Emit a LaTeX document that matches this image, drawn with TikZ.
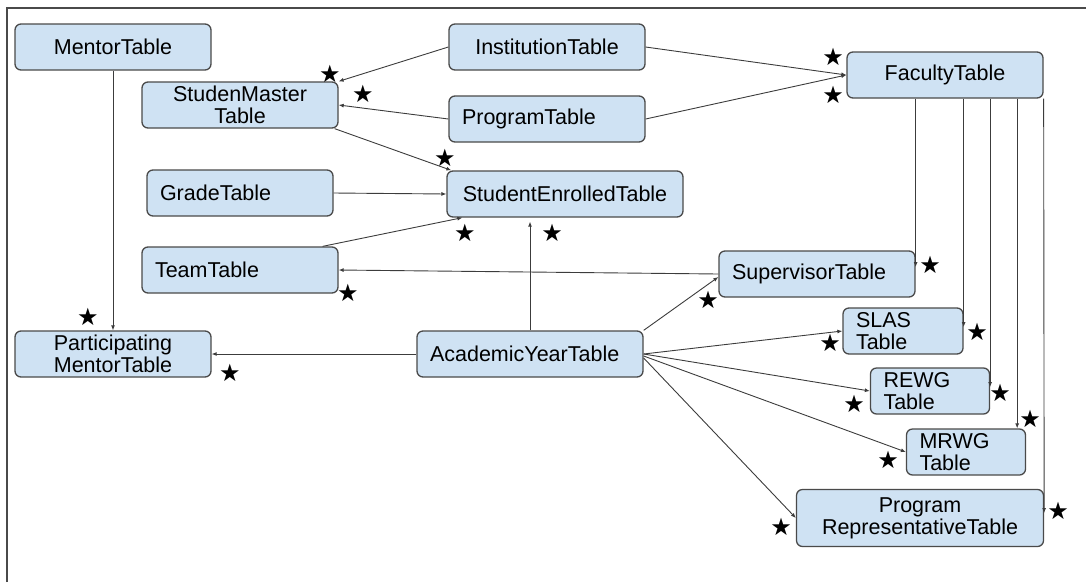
\documentclass[tikz,border=0pt]{standalone}
\usepackage{fontspec}
\setmainfont{Liberation Sans}
\newfontfamily\symfont{DejaVu Sans}
\usetikzlibrary{arrows.meta, positioning, calc}

\definecolor{boxfill}{HTML}{CFE2F3}
\definecolor{boxline}{HTML}{4A4A4A}
\definecolor{linkgray}{HTML}{3C3C3C}

\begin{document}
\begin{tikzpicture}[
  x=1pt, y=-1pt,
  tbl/.style = {draw=boxline, fill=boxfill, line width=1.3pt, rounded corners=6pt,
                minimum height=46pt, inner xsep=13pt, inner ysep=2pt,
                font=\fontsize{21.5}{22}\selectfont},
  arrow/.style = {draw=linkgray, line width=0.9pt, -{Latex[length=5pt, width=4pt]}},
  starsym/.style = {inner sep=0pt, font=\symfont\fontsize{24}{24}\selectfont}
]
  \useasboundingbox (0,0) rectangle (1086,582);

  % frame
  \draw[boxline, line width=1.3pt] (7,582) -- (7,8) -- (1086,8);

  % Mentor
  \node[tbl, text width=170pt, align=center] (mentor) at (113,47) {MentorTable};

  % Student master
  \node[tbl, text width=170pt, align=center] (studmaster) at (240,105) {StudenMaster\\Table};

  % Institution
  \node[tbl, text width=170pt, align=center] (institution) at (547,47) {InstitutionTable};

  % Program
  \node[tbl, text width=170pt, align=left] (program) at (547,119) {ProgramTable};

  % Faculty
  \node[tbl, text width=170pt, align=center] (faculty) at (945,75) {FacultyTable};

  % Grade
  \node[tbl, text width=160pt, align=left] (grade) at (240,193) {GradeTable};

  % Student enrolled
  \node[tbl, text width=210pt, align=center] (enrolled) at (565,194) {StudentEnrolledTable};

  % Team
  \node[tbl, text width=170pt, align=left] (team) at (240,270) {TeamTable};

  % Supervisor
  \node[tbl, text width=170pt, align=left] (supervisor) at (817,274) {SupervisorTable};

  % Participating mentor
  \node[tbl, text width=170pt, align=center] (partmentor) at (113,354) {Participating\\MentorTable};

  % Academic year
  \node[tbl, text width=200pt, align=left] (academic) at (530,354) {AcademicYearTable};

  % SLAS / REWG / MRWG
  \node[tbl, text width=94pt, align=left] (slas) at (903,331) {SLAS\\Table};
  \node[tbl, text width=93pt, align=left] (rewg) at (930,391) {REWG\\Table};
  \node[tbl, text width=93pt, align=left] (mrwg) at (966,452) {MRWG\\Table};

  % Program representative
  \node[tbl, text width=221pt, align=center, minimum height=57pt] (progrep) at (920,518) {Program\\RepresentativeTable};

  % stars
  \node[starsym] (st1) at (330,74) {★};
  \node[starsym] (st2) at (363,94) {★};
  \node[starsym] (st3) at (445,158) {★};
  \node[starsym] (st4) at (465,233) {★};
  \node[starsym] (st5) at (552,233) {★};
  \node[starsym] (st6) at (833,57) {★};
  \node[starsym] (st7) at (833,95) {★};
  \node[starsym] (st8) at (930,265) {★};
  \node[starsym] (st9) at (708,300) {★};
  \node[starsym] (st10) at (348,293) {★};
  \node[starsym] (st11) at (88,317) {★};
  \node[starsym] (st12) at (230,373) {★};
  \node[starsym] (st13) at (977,332) {★};
  \node[starsym] (st14) at (830,343) {★};
  \node[starsym] (st15) at (1000,393) {★};
  \node[starsym] (st16) at (854,404) {★};
  \node[starsym] (st17) at (1030,419) {★};
  \node[starsym] (st18) at (888,460) {★};
  \node[starsym] (st19) at (1058,511) {★};
  \node[starsym] (st20) at (781,527) {★};

  % mentor -> participating mentor
  \draw[arrow] (mentor.south) -- (partmentor.north);

  % institution / program -> student master
  \draw[arrow] (institution.west) -- (studmaster.north east);
  \draw[arrow] (program.west) -- (studmaster.east);

  % into student enrolled
  \draw[arrow] ([xshift=-4pt]studmaster.south east) -- ([xshift=5pt]enrolled.north west);
  \draw[arrow] (grade.east) -- (enrolled.west);
  \draw[arrow] ([xshift=-16pt]team.north east) -- ([xshift=16pt]enrolled.south west);
  \draw[arrow] (academic.north) -- ([yshift=-4pt]academic.north |- enrolled.south);

  % supervisor -> team
  \draw[arrow] (supervisor.west) -- (team.east);

  % academic year links
  \draw[arrow] (academic.north east) -- ([yshift=-3pt]supervisor.west);
  \draw[arrow] (academic.west) -- (partmentor.east);
  \draw[arrow] (academic.east) -- (slas.west);
  \draw[arrow] (academic.east) -- (rewg.west);
  \draw[arrow] ([yshift=-2pt]academic.east) -- (mrwg.west);
  \draw[arrow] ([yshift=-4pt]academic.east) -- (progrep.west);

  % into faculty
  \draw[arrow] (institution.east) -- (faculty.west);
  \draw[arrow] (program.east) -- (faculty.west);

  % faculty -> down the right side
  \coordinate (mrwg_in) at ([xshift=-9pt]mrwg.north east);
  \draw[arrow] (faculty.south -| supervisor.east) -- ([yshift=7pt]supervisor.east);
  \draw[arrow] (faculty.south -| slas.east) -- ([yshift=4pt]slas.east);
  \draw[arrow] (faculty.south -| rewg.east) -- ([yshift=4pt]rewg.east);
  \draw[arrow] (faculty.south -| mrwg_in) -- (mrwg_in);
  \draw[arrow] (faculty.south east) -- ([yshift=5pt]progrep.east);

\end{tikzpicture}
\end{document}
